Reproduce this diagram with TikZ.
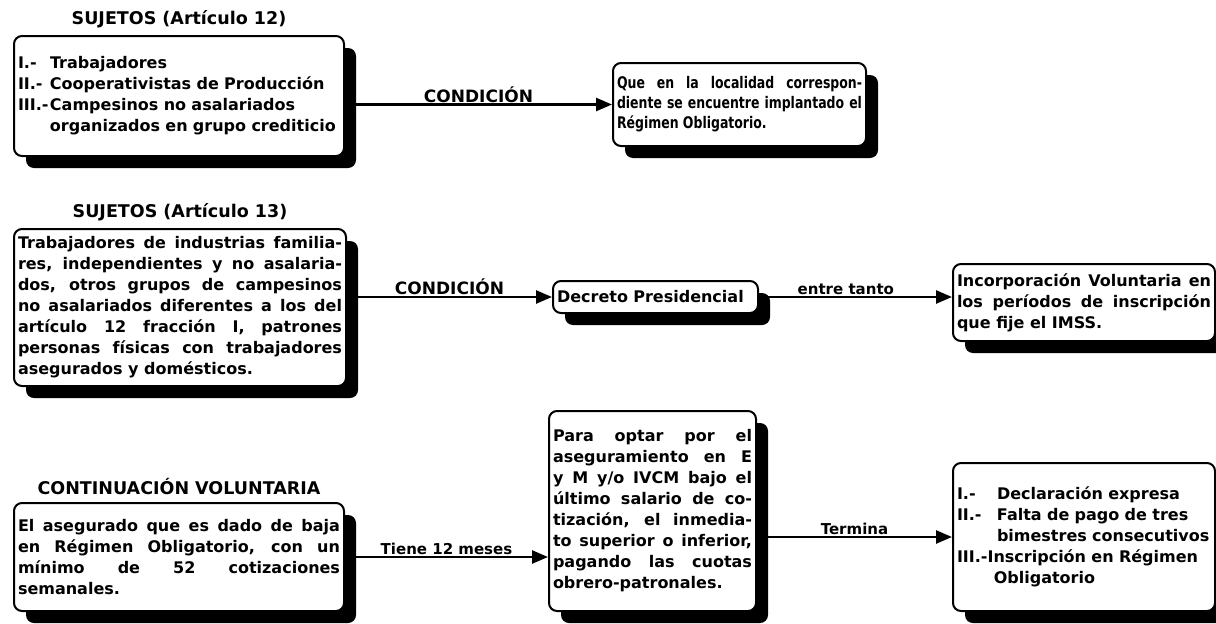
\documentclass[tikz,border=0pt]{standalone}
\usepackage{fontspec}
\setmainfont{DejaVu Sans}
\newfontfamily\narrowfont[FakeStretch=0.78]{DejaVu Sans}
\usetikzlibrary{positioning,arrows.meta,shadows}

\newcommand{\boxfont}{\fontsize{16}{21}\selectfont\bfseries
    \hyphenpenalty=10000 \exhyphenpenalty=10000}
\newcommand{\narrowboxfont}{\narrowfont\fontsize{16}{20}\selectfont\bfseries
    \hyphenpenalty=10000 \exhyphenpenalty=10000}
\newcommand{\numeral}[2][2em]{\makebox[#1][l]{#2}}

\begin{document}
\begin{tikzpicture}[x=1pt, y=-1pt]
    \tikzset{box/.style={rectangle, rounded corners=8pt, draw, line width=2pt,
        fill=white, inner sep=4pt, align=justify, font=\boxfont,
        drop shadow={fill=black, opacity=1, shadow xshift=12pt,
        shadow yshift=-12pt}}}
    \tikzset{title/.style={font=\fontsize{17.5}{20}\selectfont\bfseries,
        inner sep=1pt}}
    \tikzset{cond/.style={font=\fontsize{15}{17}\selectfont\bfseries,
        anchor=south, inner sep=1pt}}
    \tikzset{arrow/.style={line width=2.5pt,
        -{Triangle[length=16pt, width=13pt]}}}

    \useasboundingbox (0,0) rectangle (1216,624);

    % first row: articulo 12
    \node (sujetos12) [box, align=left, anchor=north west, text width=322pt,
        minimum height=120pt] at (13,35)
        {\numeral{I.-}Trabajadores\\
         \numeral{II.-}Cooperativistas de Producción\\
         \numeral{III.-}Campesinos no asalariados\\
         \numeral{}organizados en grupo crediticio};
    \node (localidad) [box, anchor=north west, text width=245pt,
        minimum height=83pt, font=\narrowboxfont] at (612,62)
        {Que en la localidad correspon-\linebreak
         diente se encuentre implantado el\linebreak
         Régimen Obligatorio.};

    % second row: articulo 13
    \node (sujetos13) [box, anchor=north west, text width=324pt,
        minimum height=157pt] at (13,228)
        {Trabajadores de industrias familia-\linebreak
         res, independientes y no asalaria-\linebreak
         dos, otros grupos de campesinos\linebreak
         no asalariados diferentes a los del\linebreak
         artículo 12 fracción I, patrones\linebreak
         personas físicas con trabajadores\linebreak
         asegurados y domésticos.};
    \node (decreto) [box, align=left, anchor=north west, text width=197pt,
        minimum height=32pt] at (552,280) {Decreto Presidencial};
    \node (incorporacion) [box, anchor=north west, text width=254pt,
        minimum height=77pt] at (952,263)
        {Incorporación Voluntaria en\linebreak
         los períodos de inscripción\linebreak
         que fije el IMSS.};

    % third row: continuacion voluntaria
    \node (asegurado) [box, anchor=north west, text width=322pt,
        minimum height=108pt] at (13,502)
        {El asegurado que es dado de baja\linebreak
         en Régimen Obligatorio, con un\linebreak
         mínimo de 52 cotizaciones\linebreak
         semanales.};
    \node (optar) [box, anchor=north west, text width=199pt,
        minimum height=200pt] at (548,410)
        {Para optar por el\linebreak
         aseguramiento en E\linebreak
         y M y/o IVCM bajo el\linebreak
         último salario de co-\linebreak
         tización, el inmedia-\linebreak
         to superior o inferior,\linebreak
         pagando las cuotas\linebreak
         obrero-patronales.};
    \node (termina) [box, align=left, anchor=north west, text width=254pt,
        minimum height=148pt] at (952,462)
        {\numeral[2.5em]{I.-}Declaración expresa\\
         \numeral[2.5em]{II.-}Falta de pago de tres\\
         \numeral[2.5em]{}bimestres consecutivos\\
         III.-Inscripción en Régimen\\
         \numeral[2.3em]{}Obligatorio};

    % titles
    \node (titulo12) [title, above=6pt of sujetos12] {SUJETOS (Artículo 12)};
    \node (titulo13) [title, above=6pt of sujetos13] {SUJETOS (Artículo 13)};
    \node (titulocv) [title, above=6pt of asegurado] {CONTINUACIÓN VOLUNTARIA};

    \draw [arrow] (sujetos12.east |- localidad.west) -- (localidad.west)
        node [cond, midway, font=\fontsize{17}{19}\selectfont\bfseries]
        {CONDICIÓN};
    \draw [arrow] (sujetos13.east |- decreto.west) -- (decreto.west)
        node [cond, midway, font=\fontsize{17}{19}\selectfont\bfseries]
        {CONDICIÓN};
    \draw [arrow] (decreto.east) -- (decreto.east -| incorporacion.west)
        node [cond, pos=0.45] {entre tanto};
    \draw [arrow] (asegurado.east) -- (asegurado.east -| optar.west)
        node [cond, midway] {Tiene 12 meses};
    \draw [arrow] (optar.east |- termina.west) -- (termina.west)
        node [cond, midway] {Termina};
\end{tikzpicture}
\end{document}
